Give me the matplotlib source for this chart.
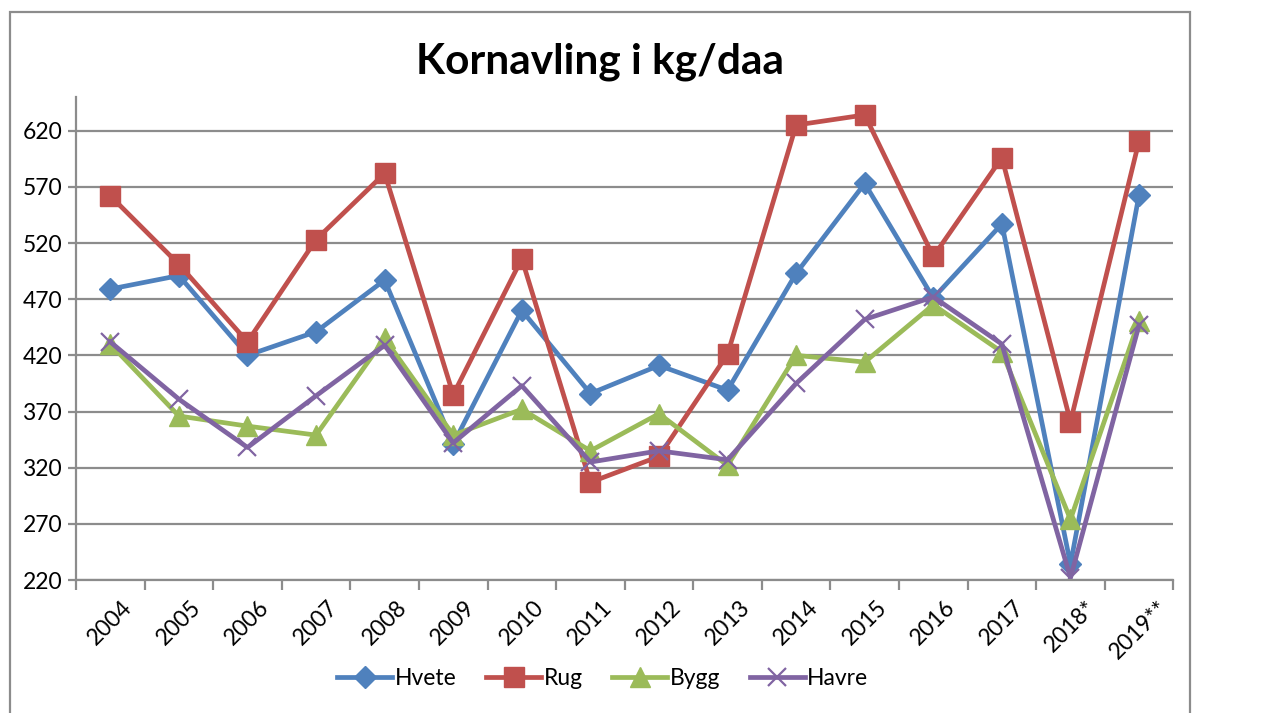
import matplotlib.pyplot as plt
from matplotlib.patches import Rectangle

plt.rcParams['font.family'] = ['Lato', 'DejaVu Sans']

years = ['2004', '2005', '2006', '2007', '2008', '2009', '2010', '2011',
         '2012', '2013', '2014', '2015', '2016', '2017', '2018*', '2019**']
hvete = [479, 491, 420, 441, 487, 341, 460, 386, 411, 389, 493, 573, 471, 537, 234, 563]
rug = [562, 501, 432, 523, 582, 385, 506, 307, 330, 421, 625, 634, 508, 596, 361, 611]
bygg = [430, 366, 357, 349, 435, 349, 372, 335, 368, 322, 420, 414, 465, 423, 274, 451]
havre = [432, 381, 338, 384, 429, 342, 393, 325, 335, 327, 395, 452, 472, 430, 222, 447]

fig = plt.figure(figsize=(12.88, 7.13), dpi=100)
ax = fig.add_axes([0.059, 0.1865, 0.852, 0.6775])

# chart area border
fig.patches.append(Rectangle((10 / 1288, -0.1), 1180 / 1288, 1.1 - 12 / 713,
                             transform=fig.transFigure, fill=False,
                             edgecolor='#8c8c8c', linewidth=1.6))

xs = [i + 0.5 for i in range(len(years))]
ax.plot(xs, hvete, color='#4f81bd', lw=3.4, marker='D', ms=11, label='Hvete')
ax.plot(xs, rug, color='#c0504d', lw=3.4, marker='s', ms=14, label='Rug')
ax.plot(xs, bygg, color='#9bbb59', lw=3.4, marker='^', ms=14, label='Bygg')
ax.plot(xs, havre, color='#8064a2', lw=3.4, marker='x', ms=13, mew=1.6, label='Havre')

ax.set_xlim(0, len(years))
ax.set_ylim(220, 650)
ax.set_yticks(range(220, 621, 50))
ax.set_xticks(range(len(years) + 1))
ax.set_xticklabels([])
ax.set_xticks(xs, minor=True)
ax.set_xticklabels(years, minor=True, rotation=45, ha='center', va='top')
ax.tick_params(axis='x', which='minor', length=0, pad=12, labelsize=16.5)
ax.tick_params(axis='x', which='major', length=7, width=1.6, color='#8c8c8c')
ax.tick_params(axis='y', length=6, width=1.6, color='#8c8c8c', labelsize=16.5, pad=4)

ax.grid(axis='y', color='#8c8c8c', lw=1.6)
ax.set_axisbelow(True)
for s in ['top', 'right']:
    ax.spines[s].set_visible(False)
for s in ['left', 'bottom']:
    ax.spines[s].set_color('#8c8c8c')
    ax.spines[s].set_linewidth(1.6)

fig.text(0.466, 0.913, 'Kornavling i kg/daa', ha='center', va='center',
         fontsize=30.5, fontweight='bold')

fig.legend(loc='center', bbox_to_anchor=(0.468, 0.048), ncol=4, frameon=False,
           fontsize=16.5, handlelength=2.4, handletextpad=0.1, columnspacing=1.3)

fig.savefig('out.png', dpi=100)
